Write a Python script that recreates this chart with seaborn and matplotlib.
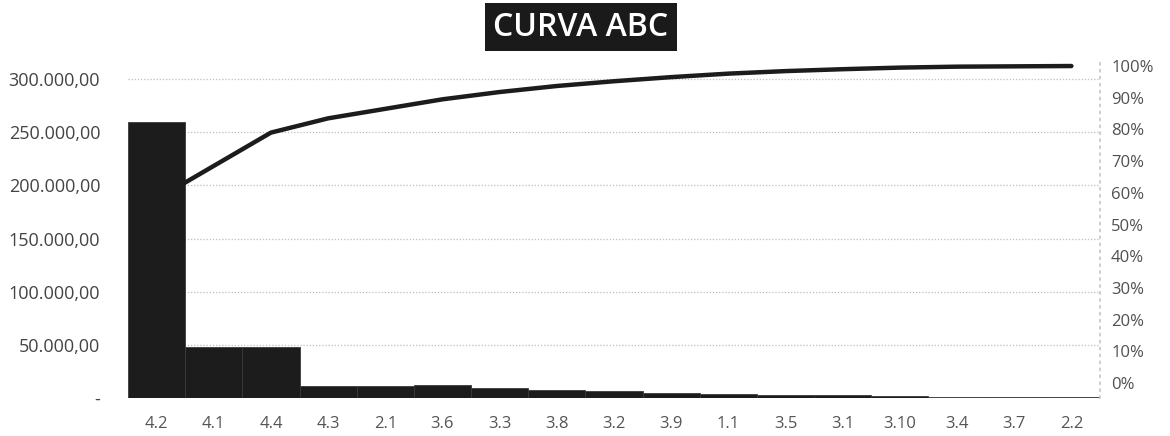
import pandas as pd
import matplotlib.pyplot as plt
import matplotlib.ticker as mticker
import seaborn as sns

sns.set_theme(style="white")
plt.rcParams['font.family'] = ['Open Sans', 'DejaVu Sans']

# Items sorted by value (ABC / Pareto)
itens = ['4.2', '4.1', '4.4', '4.3', '2.1', '3.6', '3.3', '3.8', '3.2',
         '3.9', '1.1', '3.5', '3.1', '3.10', '3.4', '3.7', '2.2']
valores = [260000, 48000, 48000, 11000, 11000, 12000, 9500, 7500, 7000,
           5000, 4000, 3000, 2500, 2000, 1000, 800, 500]
# cumulative share
acumulado = [58.0, 68.5, 79.0, 83.5, 86.5, 89.5, 91.8, 93.7, 95.2,
             96.5, 97.6, 98.4, 99.0, 99.5, 99.8, 99.9, 100.0]

left_ticks = [0, 50000, 100000, 150000, 200000, 250000, 300000]
right_ticks = [0, 10, 20, 30, 40, 50, 60, 70, 80, 90, 100]

df = pd.DataFrame({'item': itens, 'valor': valores, 'acum': acumulado})


def br_fmt(v, pos=None):
    if v == 0:
        return '-'
    s = f"{v:,.2f}"
    return s.replace(',', 'X').replace('.', ',').replace('X', '.')


fig = plt.figure(figsize=(11.7, 4.36), dpi=100)
ax = fig.add_axes([128 / 1170, 1 - 398 / 436, (1100 - 128) / 1170, (398 - 60) / 436])

sns.barplot(data=df, x='item', y='valor', ax=ax, color='#1c1c1c', width=1.0,
            saturation=1, edgecolor='#3a3a3a', linewidth=0.6, zorder=2)
ax.set_ylim(0, 318000)
ax.set_yticks(left_ticks)
ax.yaxis.set_major_formatter(mticker.FuncFormatter(br_fmt))
ax.grid(axis='y', linestyle=(0, (1, 1.5)), color='#bdbdbd', linewidth=0.9, zorder=0)
ax.set_axisbelow(True)
ax.set_xlabel('')
ax.set_ylabel('')
for s in ax.spines.values():
    s.set_visible(False)
ax.tick_params(axis='y', length=0, pad=20, labelsize=13, labelcolor='#444444')
ax.tick_params(axis='x', length=0, pad=13, labelsize=12, labelcolor='#555555')

ax2 = ax.twinx()
sns.pointplot(data=df, x='item', y='acum', ax=ax2, color='#1c1c1c',
              markers='', linewidth=3.2, errorbar=None)
ax2.set_ylim(-4.7, 101.9)
ax2.set_yticks(right_ticks)
ax2.yaxis.set_major_formatter(mticker.FuncFormatter(lambda v, p: f"{v:.0f}%"))
ax2.set_ylabel('')
ax2.set_xlabel('')
for s in ax2.spines.values():
    s.set_visible(False)
ax2.spines['right'].set_visible(True)
ax2.spines['right'].set_linestyle((0, (1, 3)))
ax2.spines['right'].set_color('#c8c8c8')
ax2.tick_params(axis='y', length=0, pad=8, labelsize=12, labelcolor='#505050')

fig.text(0.4966, 1 - 27 / 436, 'CURVA ABC', ha='center', va='center',
         fontsize=23, fontweight='semibold', color='white',
         bbox=dict(boxstyle='square,pad=0.25', facecolor='#1a1a1a', edgecolor='none'))

fig.savefig('out.png', dpi=100)
